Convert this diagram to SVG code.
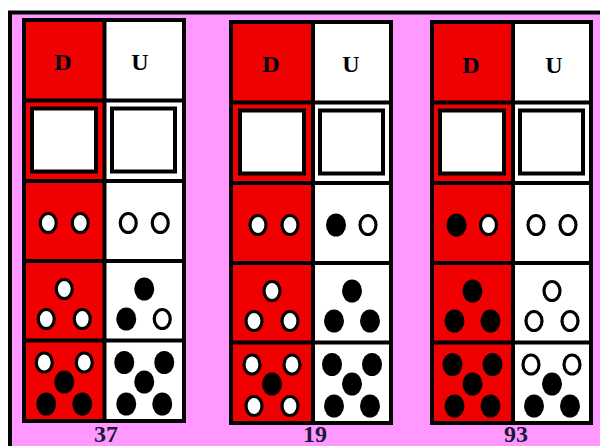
<svg xmlns="http://www.w3.org/2000/svg" xmlns:xlink="http://www.w3.org/1999/xlink" width="600" height="446" viewBox="0 0 600 446">
<style>
.red{fill:#F00000}
.wht{fill:#FFFFFF}
.grid{fill:none;stroke:#000;stroke-width:4}
.sq{fill:#FFFFFF;stroke:#000;stroke-width:4}
.hd{font-family:"Liberation Serif","DejaVu Serif",serif;font-weight:bold;font-size:24px;text-anchor:middle;fill:#000010}
.num{font-family:"Liberation Serif","DejaVu Serif",serif;font-weight:bold;font-size:24px;text-anchor:middle;fill:#1a1a38}
</style>
<defs>
<ellipse id="w" cx="0" cy="0" rx="8" ry="9.5" fill="#FFFFFF" stroke="#000" stroke-width="3.2"/>
<ellipse id="b" cx="0" cy="0" rx="10" ry="11.5" fill="#000"/>
</defs>
<rect x="0" y="0" width="600" height="446" fill="#FFFFFF"/>
<rect id="frame" x="10" y="12.5" width="620" height="460" fill="#FF99FF" stroke="#000" stroke-width="4"/>

<!-- Column 37 -->
<g id="col37">
<rect class="red" x="24" y="20" width="80.5" height="401"/>
<rect class="wht" x="104.5" y="20" width="79.5" height="401"/>
<rect class="sq" x="32" y="108.5" width="64" height="63"/>
<rect class="sq" x="112" y="108.5" width="63" height="63"/>
<path class="grid" d="M24 20H184V421H24Z M104.5 20V421 M24 100.5H184 M24 181H184 M24 261H184 M24 340.5H184"/>
<text class="hd" x="63" y="70">D</text>
<text class="hd" x="140" y="70">U</text>
<use href="#w" x="48.25" y="223"/><use href="#w" x="80.25" y="223"/>
<use href="#w" x="128.25" y="223"/><use href="#w" x="160.25" y="223"/>
<use href="#w" x="64.25" y="289"/><use href="#w" x="46.25" y="319"/><use href="#w" x="82.25" y="319"/>
<use href="#b" x="144.25" y="289"/><use href="#b" x="126.25" y="319"/><use href="#w" x="162.25" y="319"/>
<use href="#b" x="64.25" y="382"/><use href="#b" x="46.25" y="404"/><use href="#b" x="82.25" y="404"/>
<use href="#w" x="44.25" y="362.5"/><use href="#w" x="84.25" y="362.5"/>
<use href="#b" x="124.25" y="362.5"/><use href="#b" x="164.25" y="362.5"/><use href="#b" x="144.25" y="382"/><use href="#b" x="126.25" y="404"/><use href="#b" x="162.25" y="404"/>
<text class="num" x="106" y="442">37</text>
</g>

<!-- Column 19 -->
<g id="col19">
<rect class="red" x="231" y="22" width="82" height="401"/>
<rect class="wht" x="313" y="22" width="78" height="401"/>
<rect class="sq" x="240" y="110.5" width="64" height="63"/>
<rect class="sq" x="320" y="110.5" width="63" height="63"/>
<path class="grid" d="M231 22H391V423H231Z M313 22V423 M231 102.5H391 M231 183H391 M231 263H391 M231 342.5H391"/>
<text class="hd" x="271" y="72">D</text>
<text class="hd" x="351" y="72">U</text>
<use href="#w" x="258" y="225"/><use href="#w" x="290" y="225"/>
<use href="#b" x="336" y="225"/><use href="#w" x="368" y="225"/>
<use href="#w" x="272" y="291"/><use href="#w" x="254" y="321"/><use href="#w" x="290" y="321"/>
<use href="#b" x="352" y="291"/><use href="#b" x="334" y="321"/><use href="#b" x="370" y="321"/>
<use href="#w" x="252" y="364.5"/><use href="#w" x="292" y="364.5"/><use href="#b" x="272" y="384"/><use href="#w" x="254" y="406"/><use href="#w" x="290" y="406"/>
<use href="#b" x="332" y="364.5"/><use href="#b" x="372" y="364.5"/><use href="#b" x="352" y="384"/><use href="#b" x="334" y="406"/><use href="#b" x="370" y="406"/>
<text class="num" x="315" y="442">19</text>
</g>

<!-- Column 93 -->
<g id="col93">
<rect class="red" x="432" y="22" width="81" height="401"/>
<rect class="wht" x="513" y="22" width="78" height="401"/>
<rect class="sq" x="440" y="110.5" width="64" height="63"/>
<rect class="sq" x="520" y="110.5" width="63" height="63"/>
<path class="grid" d="M432 22H591V423H432Z M513 22V423 M432 102.5H591 M432 183H591 M432 263H591 M432 342.5H591"/>
<text class="hd" x="471" y="73">D</text>
<text class="hd" x="554" y="73">U</text>
<use href="#b" x="456.5" y="225"/><use href="#w" x="488.5" y="225"/>
<use href="#w" x="536" y="225"/><use href="#w" x="568" y="225"/>
<use href="#b" x="472.5" y="291"/><use href="#b" x="454.5" y="321"/><use href="#b" x="490.5" y="321"/>
<use href="#w" x="552" y="291"/><use href="#w" x="534" y="321"/><use href="#w" x="570" y="321"/>
<use href="#b" x="452.5" y="364.5"/><use href="#b" x="492.5" y="364.5"/><use href="#b" x="472.5" y="384"/><use href="#b" x="454.5" y="406"/><use href="#b" x="490.5" y="406"/>
<use href="#w" x="531" y="364.5"/><use href="#w" x="572" y="364.5"/><use href="#b" x="552" y="384"/><use href="#b" x="534" y="406"/><use href="#b" x="570" y="406"/>
<text class="num" x="516" y="442">93</text>
</g>
</svg>
